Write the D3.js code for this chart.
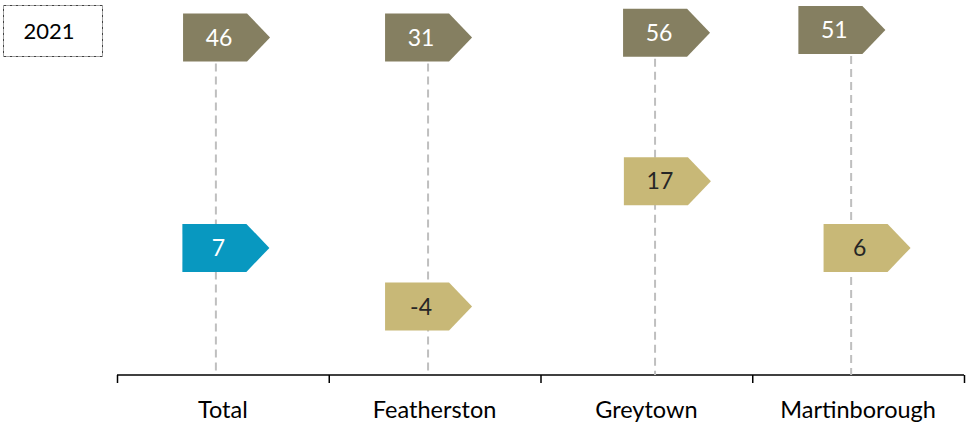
<!DOCTYPE html>
<html>
<head>
<meta charset="utf-8">
<script src="https://cdn.jsdelivr.net/npm/d3@7"></script>
<style>
  html, body { margin: 0; padding: 0; background: #fff; }
  svg text { font-family: Lato, "Open Sans", sans-serif; }
</style>
</head>
<body>
<div id="chart"></div>
<script>
// data
const categories = ["Total", "Featherston", "Greytown", "Martinborough"];
const xPos = [0.467, 1.469, 2.541, 3.467];      // drop line x, in category units
const topValues = [46, 31, 56, 51];
const topTagX = [0.463, 1.417, 2.541, 3.369];   // label x of the top tags
const topLevel = [90, 90, 91.3, 92];            // plotted y of the top tags
const bottomValues = [7, -4, 17, 6];
const bottomTagX = [0.46, 1.417, 2.545, 3.488];
const bottomLevel = [33.9, 18.3, 51.7, 33.9];   // plotted y of the lower tags
const bottomKind = ["total", "area", "area", "area"];
const yearLabel = "2021";

var width = 966
var height = 432

var svg = d3.select("#chart")
  .append("svg")
    .attr("width", width)
    .attr("height", height)

var x = d3.scaleLinear().domain([0, categories.length]).range([117, 964])
var y = d3.scaleLinear().domain([0, 100]).range([375, 0])

// category band axis (ticks between categories)
var band = d3.scaleBand().domain(categories).range([117, 964])
svg.append("g")
    .attr("transform", "translate(0,375)")
    .call(d3.axisBottom(x).tickValues(d3.range(categories.length + 1)).tickFormat("").tickSize(8).tickSizeOuter(0))
    .call(g => g.select(".domain").attr("stroke", "#000").attr("stroke-width", 1.5).attr("d", "M117,0H964"))
    .call(g => g.selectAll(".tick line").attr("stroke", "#000").attr("stroke-width", 1.5))

svg.append("g")
  .selectAll("text")
  .data(categories)
  .enter()
  .append("text")
    .attr("x", d => band(d) + band.bandwidth() / 2)
    .attr("y", 418)
    .attr("text-anchor", "middle")
    .attr("fill", "#000")
    .style("font-size", "23.5px")
    .text(d => d)

// dashed drop lines
svg.append("g")
  .selectAll("line")
  .data(categories)
  .enter()
  .append("line")
    .attr("x1", (d, i) => x(xPos[i]))
    .attr("x2", (d, i) => x(xPos[i]))
    .attr("y1", (d, i) => y(topLevel[i]))
    .attr("y2", y(0))
    .attr("stroke", "#bfbfbf")
    .attr("stroke-width", 2)
    .attr("stroke-dasharray", "8,5")

// arrow-shaped value tags
var boxW = 64, boxH = 48, tip = 23
function tagPath(cx, cy) {
  var l = cx - boxW / 2, r = cx + boxW / 2, t = cy - boxH / 2, b = cy + boxH / 2
  return "M" + l + "," + t + "H" + r + "L" + (r + tip) + "," + cy + "L" + r + "," + b + "H" + l + "Z"
}

function drawTags(values, xs, levels, fillFn, textFn) {
  var g = svg.append("g")
    .selectAll("g")
    .data(values)
    .enter()
    .append("g")
  g.append("path")
    .attr("d", (d, i) => tagPath(x(xs[i]), y(levels[i])))
    .attr("fill", (d, i) => fillFn(i))
  g.append("text")
    .attr("x", (d, i) => x(xs[i]) + 4)
    .attr("y", (d, i) => y(levels[i]))
    .attr("dy", "0.36em")
    .attr("text-anchor", "middle")
    .attr("fill", (d, i) => textFn(i))
    .style("font-size", "23px")
    .text(d => d)
}

drawTags(topValues, topTagX, topLevel, () => "#857f61", () => "#fff")
drawTags(bottomValues, bottomTagX, bottomLevel,
  i => bottomKind[i] == "total" ? "#0898c0" : "#c8b877",
  i => bottomKind[i] == "total" ? "#fff" : "#262626")

// year box
svg.append("rect")
    .attr("x", 3.5)
    .attr("y", 5.5)
    .attr("width", 99)
    .attr("height", 51)
    .attr("fill", "none")
    .attr("stroke", "#404040")
    .attr("stroke-width", 1)
    .attr("stroke-dasharray", "3,1,1,1")
svg.append("text")
    .attr("x", 49)
    .attr("y", 31)
    .attr("dy", "0.36em")
    .attr("text-anchor", "middle")
    .attr("fill", "#000")
    .style("font-size", "22px")
    .text(yearLabel)
</script>
</body>
</html>
